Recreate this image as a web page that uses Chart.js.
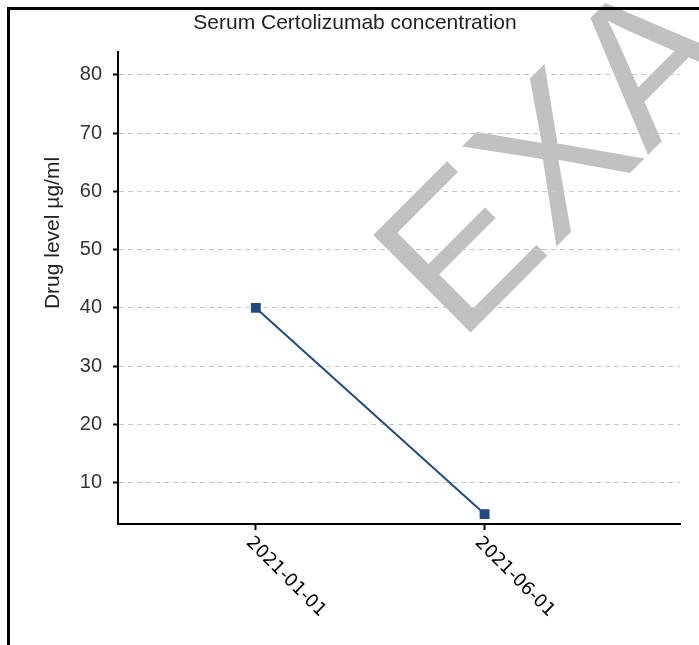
<!DOCTYPE html>
<html>
<head>
<meta charset="utf-8">
<script src="https://cdn.jsdelivr.net/npm/chart.js"></script>
<style>
  html, body { margin: 0; padding: 0; background: #fff; overflow: hidden; }
  #watermark {
    position: absolute; left: 459px; top: 344px;
    font: 200px "Liberation Sans", Arial, sans-serif; line-height: 200px;
    color: #c0c0c0; white-space: nowrap;
    transform-origin: 0 0; transform: rotate(-45deg) translateY(-169px);
    z-index: 0;
  }
  #frame { position: absolute; left: 7px; top: 7px; width: 800px; height: 800px; border: 3px solid #000; z-index: 1; }
  #drugChart { position: absolute; left: 0; top: 0; }
</style>
</head>
<body>
<div id="watermark">EXAMPLE</div>
<div id="frame">
  <canvas id="drugChart" width="690" height="635"></canvas>
</div>
<script>
  const sampleDates = ['2021-01-01', '2021-06-01'];
  const drugLevels = [40, 4.6];
  const yTickValues = [10, 20, 30, 40, 50, 60, 70, 80];
  const axisDates = ['2020-10-02', '2021-10-08']; // x axis range
  const yRange = [2.9, 84];

  Chart.defaults.font.family = '"Liberation Sans", Arial, sans-serif';

  // x labels are rotated the other way than chart.js does it, and the y title sits high, so draw them here
  const extraLabels = {
    id: 'extraLabels',
    afterDraw(chart) {
      const ctx = chart.ctx;
      const xs = chart.scales.x;
      ctx.save();
      ctx.fillStyle = '#000';
      ctx.font = '18px "DejaVu Sans"';
      ctx.textAlign = 'left';
      ctx.textBaseline = 'middle';
      sampleDates.forEach(d => {
        const px = xs.getPixelForValue(Date.parse(d));
        ctx.save();
        ctx.translate(px - 7, chart.chartArea.bottom + 16);
        ctx.rotate(Math.PI / 4);
        ctx.fillText(d, 0, 0);
        ctx.restore();
      });
      ctx.fillStyle = '#222';
      ctx.font = '21px "Liberation Sans"';
      ctx.textAlign = 'center';
      ctx.translate(43, 223);
      ctx.rotate(-Math.PI / 2);
      ctx.fillText('Drug level µg/ml', 0, 0);
      ctx.restore();
    }
  };

  const points = sampleDates.map((d, i) => ({ x: Date.parse(d), y: drugLevels[i] }));

  const drugChart = new Chart(document.getElementById('drugChart'), {
    type: 'line',
    data: {
      datasets: [{
        label: 'Drug level',
        data: points,
        borderColor: '#234a80',
        backgroundColor: '#234a80',
        borderWidth: 2,
        pointStyle: 'rect',
        pointRadius: 7,
        pointBorderWidth: 0,
        pointBackgroundColor: '#234a80'
      }]
    },
    options: {
      responsive: false,
      animation: false,
      devicePixelRatio: 1,
      layout: { padding: { left: 20, right: 20 } },
      plugins: {
        legend: { display: false },
        tooltip: { enabled: false },
        title: {
          display: true,
          text: 'Serum Certolizumab concentration',
          color: '#222',
          font: { size: 21, weight: 'normal' },
          padding: { top: 1, bottom: 15.4 }
        }
      },
      scales: {
        x: {
          type: 'linear',
          min: Date.parse(axisDates[0]),
          max: Date.parse(axisDates[1]),
          afterBuildTicks: scale => { scale.ticks = sampleDates.map(d => ({ value: Date.parse(d) })); },
          afterFit: scale => { scale.height = 121; },
          ticks: { display: false },
          grid: { drawOnChartArea: false, drawTicks: true, tickLength: 6, tickColor: '#000', tickWidth: 2 },
          border: { color: '#000', width: 2 }
        },
        y: {
          min: yRange[0],
          max: yRange[1],
          afterBuildTicks: scale => { scale.ticks = yTickValues.map(v => ({ value: v })); },
          afterFit: scale => { scale.width = 88; },
          ticks: { color: '#333', font: { size: 20 }, padding: 11 },
          grid: { color: '#c8c8c8', lineWidth: 1, tickLength: 5, tickColor: '#000', tickWidth: 2 },
          border: { color: '#000', width: 2, dash: [5, 4] }
        }
      }
    },
    plugins: [extraLabels]
  });
</script>
</body>
</html>
